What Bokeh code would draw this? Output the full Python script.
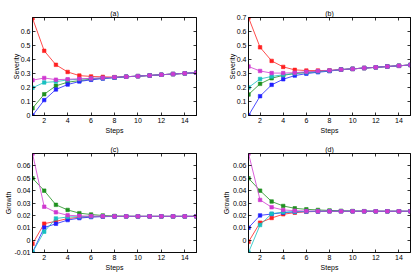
from bokeh.plotting import figure
from bokeh.layouts import column, row
from bokeh.models import Range1d, LinearAxis, FixedTicker, NumeralTickFormatter, CustomJSTickFormatter
from bokeh.embed import file_html
from bokeh.resources import INLINE

steps = list(range(1, 16))

# Panel (a) Severity
a_red = [0.695, 0.462, 0.362, 0.311, 0.285, 0.279, 0.276, 0.274, 0.277, 0.281, 0.286, 0.291, 0.296, 0.301, 0.306]
a_green = [0.052, 0.152, 0.212, 0.238, 0.249, 0.259, 0.266, 0.271, 0.277, 0.281, 0.286, 0.291, 0.296, 0.301, 0.306]
a_blue = [0.0, 0.110, 0.186, 0.221, 0.243, 0.255, 0.264, 0.270, 0.277, 0.281, 0.286, 0.291, 0.296, 0.301, 0.306]
a_cyan = [0.198, 0.236, 0.242, 0.254, 0.259, 0.264, 0.268, 0.272, 0.277, 0.281, 0.286, 0.291, 0.296, 0.301, 0.306]
a_magenta = [0.252, 0.268, 0.256, 0.259, 0.262, 0.265, 0.269, 0.273, 0.277, 0.281, 0.286, 0.291, 0.296, 0.301, 0.306]

# Panel (b) Severity
b_red = [0.700, 0.487, 0.390, 0.347, 0.326, 0.321, 0.321, 0.322, 0.328, 0.333, 0.339, 0.344, 0.350, 0.355, 0.361]
b_green = [0.150, 0.226, 0.266, 0.287, 0.300, 0.307, 0.313, 0.319, 0.328, 0.333, 0.339, 0.344, 0.350, 0.355, 0.361]
b_blue = [0.0, 0.138, 0.219, 0.259, 0.285, 0.299, 0.309, 0.317, 0.328, 0.333, 0.339, 0.344, 0.350, 0.355, 0.361]
b_cyan = [0.200, 0.261, 0.279, 0.291, 0.301, 0.308, 0.314, 0.320, 0.328, 0.333, 0.339, 0.344, 0.350, 0.355, 0.361]
b_magenta = [0.350, 0.318, 0.303, 0.303, 0.306, 0.312, 0.317, 0.322, 0.328, 0.333, 0.339, 0.344, 0.350, 0.355, 0.361]

# Panel (c) Growth
c_red = [-0.0030, 0.0133, 0.0152, 0.0174, 0.0185, 0.0190, 0.0191, 0.0192, 0.0192, 0.0192, 0.0192, 0.0192, 0.0192, 0.0192, 0.0192]
c_green = [0.0500, 0.0400, 0.0285, 0.0244, 0.0218, 0.0207, 0.0199, 0.0195, 0.0193, 0.0192, 0.0192, 0.0192, 0.0192, 0.0192, 0.0192]
c_blue = [-0.0100, 0.0102, 0.0132, 0.0162, 0.0178, 0.0186, 0.0190, 0.0191, 0.0192, 0.0192, 0.0192, 0.0192, 0.0192, 0.0192, 0.0192]
c_cyan = [-0.0098, 0.0068, 0.0175, 0.0187, 0.0190, 0.0191, 0.0192, 0.0192, 0.0192, 0.0192, 0.0192, 0.0192, 0.0192, 0.0192, 0.0192]
c_magenta = [0.0700, 0.0270, 0.0225, 0.0201, 0.0196, 0.0194, 0.0193, 0.0192, 0.0192, 0.0192, 0.0192, 0.0192, 0.0192, 0.0192, 0.0192]

# Panel (d) Growth
d_red = [-0.0014, 0.0141, 0.0179, 0.0209, 0.0222, 0.0229, 0.0232, 0.0233, 0.0233, 0.0233, 0.0233, 0.0233, 0.0233, 0.0233, 0.0233]
d_green = [0.0500, 0.0400, 0.0312, 0.0276, 0.0257, 0.0249, 0.0244, 0.0240, 0.0237, 0.0235, 0.0234, 0.0233, 0.0233, 0.0233, 0.0233]
d_blue = [0.0100, 0.0200, 0.0211, 0.0222, 0.0228, 0.0231, 0.0232, 0.0233, 0.0233, 0.0233, 0.0233, 0.0233, 0.0233, 0.0233, 0.0233]
d_cyan = [-0.0100, 0.0122, 0.0214, 0.0226, 0.0230, 0.0232, 0.0233, 0.0233, 0.0233, 0.0233, 0.0233, 0.0233, 0.0233, 0.0233, 0.0233]
d_magenta = [0.0700, 0.0325, 0.0266, 0.0244, 0.0238, 0.0235, 0.0234, 0.0233, 0.0233, 0.0233, 0.0233, 0.0233, 0.0233, 0.0233, 0.0233]

x_ticks = [2, 4, 6, 8, 10, 12, 14]
sev_ticks_a = [0, 0.1, 0.2, 0.3, 0.4, 0.5, 0.6]
sev_ticks_b = [0, 0.1, 0.2, 0.3, 0.4, 0.5, 0.6, 0.7]
gro_ticks_c = [-0.01, 0, 0.01, 0.02, 0.03, 0.04, 0.05, 0.06]
gro_ticks_d = [0, 0.01, 0.02, 0.03, 0.04, 0.05, 0.06]

COLORS = {"red": "#ff2020", "green": "#1e901e", "blue": "#2020ff", "cyan": "#18c0c0", "magenta": "#d038d0"}
FONT = "Liberation Sans"
FS = "7px"


def make(title, ylabel, yrange, yticks, series, w, h, bl, br, bt, bb, ylab_standoff):
    p = figure(width=w, height=h, x_range=Range1d(1, 15), y_range=Range1d(*yrange),
               output_backend="svg", toolbar_location=None,
               min_border_left=bl, min_border_right=br, min_border_top=bt, min_border_bottom=bb,
               title=title)
    p.title.align = "center"
    p.title.text_font = FONT
    p.title.text_font_size = FS
    p.title.text_font_style = "normal"
    p.title.text_color = "black"
    p.title.standoff = 1
    p.title.offset = 0
    p.xgrid.visible = False
    p.ygrid.visible = False
    p.outline_line_color = "black"
    p.outline_line_width = 0.8
    p.background_fill_color = "white"
    p.border_fill_color = "white"
    for ax in p.xaxis:
        ax.ticker = FixedTicker(ticks=x_ticks)
        ax.axis_label = "Steps"
    for ax in p.yaxis:
        ax.ticker = FixedTicker(ticks=yticks)
        ax.formatter = NumeralTickFormatter(format="0.[00]")
        ax.axis_label = ylabel
    for ax in list(p.xaxis) + list(p.yaxis):
        ax.major_tick_in = 3
        ax.major_tick_out = 0
        ax.minor_tick_line_color = None
        ax.axis_line_color = "black"
        ax.axis_line_width = 0.8
        ax.major_tick_line_color = "black"
        ax.major_tick_line_width = 0.8
        ax.major_label_text_font = FONT
        ax.major_label_text_font_size = FS
        ax.major_label_text_color = "black"
        ax.axis_label_text_font = FONT
        ax.axis_label_text_font_size = FS
        ax.axis_label_text_font_style = "normal"
        ax.axis_label_text_color = "black"
        ax.major_label_standoff = 2
        ax.axis_label_standoff = 1
    for ax in p.yaxis:
        ax.axis_label_standoff = ylab_standoff
    # box ticks on the right and top (no labels)
    for loc, ticks in (("right", yticks), ("above", x_ticks)):
        ax = LinearAxis(ticker=FixedTicker(ticks=ticks),
                        formatter=CustomJSTickFormatter(code="return ''"))
        ax.major_tick_in = 3
        ax.major_tick_out = 0
        ax.minor_tick_line_color = None
        ax.major_label_standoff = 0
        ax.axis_line_color = "black"
        ax.axis_line_width = 0.8
        ax.major_tick_line_width = 0.8
        p.add_layout(ax, loc)
    for name, ys in series:
        c = COLORS[name]
        p.line(steps, ys, line_color=c, line_width=0.8)
        p.scatter(steps, ys, marker="square", size=3.5, fill_color=c, line_color=c, line_width=0.6)
    return p


pa = make("(a)", "Severity", (0, 0.7), sev_ticks_a,
          [("red", a_red), ("green", a_green), ("blue", a_blue), ("cyan", a_cyan), ("magenta", a_magenta)],
          208, 136, 32, 12, 17, 20, -2)
pb = make("(b)", "Severity", (0, 0.7), sev_ticks_b,
          [("red", b_red), ("green", b_green), ("blue", b_blue), ("cyan", b_cyan), ("magenta", b_magenta)],
          207, 136, 40, 5, 17, 20, -2)
pc = make("(c)", "Growth", (-0.01, 0.07), gro_ticks_c,
          [("red", c_red), ("green", c_green), ("blue", c_blue), ("cyan", c_cyan), ("magenta", c_magenta)],
          208, 137, 32, 12, 17, 21, 0)
pd_ = make("(d)", "Growth", (-0.01, 0.07), gro_ticks_d,
           [("red", d_red), ("green", d_green), ("blue", d_blue), ("cyan", d_cyan), ("magenta", d_magenta)],
           207, 137, 40, 5, 17, 21, 0)

layout = column(row(pa, pb), row(pc, pd_))
open("out.html", "w").write(file_html(layout, INLINE))
